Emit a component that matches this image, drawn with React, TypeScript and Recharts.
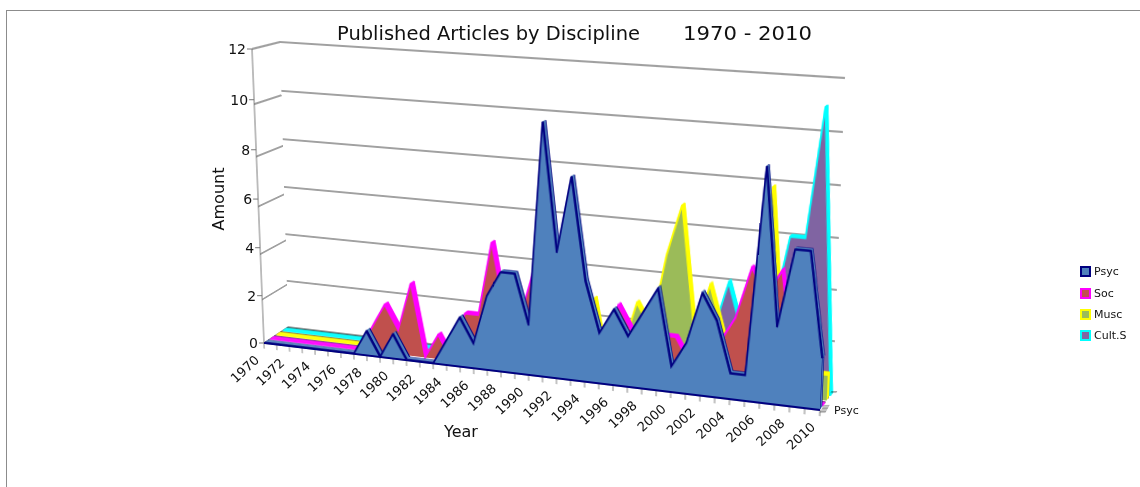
import React from "react";
import { AreaChart, Area, XAxis, YAxis, CartesianGrid, ReferenceLine, ComposedChart, Legend } from "recharts";

const years = Array.from({ length: 41 }, (_, i) => 1970 + i);
const psyc = [0,0,0,0,0,0,0,0,1,0,1,0,0,0,1,2,1,3,4,4,2,10,5,8,4,2,3,2,3,4,1,2,4,3,1,1,9,3,6,6,2];
const soc  = [0,0,0,0,0,0,0,0,1,2,1,3,0,1,0,2,2,5,2,2,4,3,2,1,1,1,3,2,1,2,2,1,1,2,3,5,4,5,1,0,0];
const musc = [0,0,0,0,0,0,0,0,0,0,0,0,0,0,0,0,0,0,0,0,0,0,0,0,3,0,1,3,2,5,7,2,4,2,1,1,8,1,1,1,1];
const cult = [0,0,0,0,0,0,0,0,0,0,0,0,0,0,0,0,0,0,0,0,0,0,0,0,0,0,0,0,0,0,0,0,2,4,2,2,3,6,6,11,0];
const yTicks = [0, 2, 4, 6, 8, 10, 12];
const gridTicks = [2, 4, 6, 8, 10, 12];
const xLabelTicks = years.filter((y) => y % 2 === 0);
const depthTicks = [0, 1, 2, 3];

const rows = years.map((year, i) => ({ year, psyc: psyc[i], soc: soc[i], musc: musc[i], cult: cult[i] }));

const seriesDefs = [
  { key: "cult", name: "Cult.S", fill: "#8064A2", line: "#00FFFF", depth: 0.78 },
  { key: "musc", name: "Musc", fill: "#9BBB59", line: "#FFFF00", depth: 0.52 },
  { key: "soc", name: "Soc", fill: "#C0504D", line: "#FF00FF", depth: 0.26 },
  { key: "psyc", name: "Psyc", fill: "#4F81BD", line: "#000080", depth: 0 },
];

const FONT = "'DejaVu Sans', sans-serif";
const W = 560;
const H = 300;
const M = 10;
type P = [number, number];
type Quad = [P, P, P, P]; // TL, TR, BR, BL

const FRONT: Quad = [[252, 49], [833, 88], [820, 410], [264, 343]];
const BACK: Quad = [[280, 42], [845, 78], [833, 392], [288, 327]];
const LEFT_WALL: Quad = [[252, 49], [280, 42], [288, 327], [264, 343]];
const DEPTH_QUAD: Quad = [[831, 392], [837, 392], [826, 412], [820, 412]];

const lerpQuad = (d: number): Quad =>
  FRONT.map((p, i) => [p[0] + (BACK[i][0] - p[0]) * d, p[1] + (BACK[i][1] - p[1]) * d]) as Quad;

function homography(q: Quad) {
  const [[x0, y0], [x1, y1], [x2, y2], [x3, y3]] = q;
  const dx1 = x1 - x2, dx2 = x3 - x2, dx3 = x0 - x1 + x2 - x3;
  const dy1 = y1 - y2, dy2 = y3 - y2, dy3 = y0 - y1 + y2 - y3;
  const den = dx1 * dy2 - dx2 * dy1;
  const g = (dx3 * dy2 - dx2 * dy3) / den;
  const h = (dx1 * dy3 - dx3 * dy1) / den;
  return { a: x1 - x0 + g * x1, b: x3 - x0 + h * x3, c: x0, d: y1 - y0 + g * y1, e: y3 - y0 + h * y3, f: y0, g, h };
}

function project(q: Quad, u: number, v: number): P {
  const m = homography(q);
  const w = m.g * u + m.h * v + 1;
  return [(m.a * u + m.b * v + m.c) / w, (m.d * u + m.e * v + m.f) / w];
}

function cssMatrix(q: Quad) {
  const m = homography(q);
  const v = [m.a / W, m.d / W, 0, m.g / W, m.b / H, m.e / H, 0, m.h / H, 0, 0, 1, 0, m.c, m.f, 0, 1];
  return `matrix3d(${v.join(",")}) translate(${-M}px, ${-M}px)`;
}

const Layer = ({ quad, yMax = 12, ticks = gridTicks, children }: { quad: Quad; yMax?: number; ticks?: number[]; children: React.ReactNode }) => (
  <div style={{ position: "absolute", left: 0, top: 0, width: W + 2 * M, height: H + 2 * M, transformOrigin: "0 0", transform: cssMatrix(quad) }}>
    <AreaChart width={W + 2 * M} height={H + 2 * M} data={rows} margin={{ top: M, right: M, bottom: M, left: M }}>
      <XAxis dataKey="year" type="number" domain={[1970, 2010]} hide />
      <YAxis domain={[0, yMax]} ticks={ticks} hide />
      {children}
    </AreaChart>
  </div>
);

const hiddenSeries = (
  <Area dataKey="psyc" stroke="none" fill="none" isAnimationActive={false} dot={false} activeDot={false} />
);

const SeriesStack = ({ def }: { def: (typeof seriesDefs)[number] }) => {
  const isFront = def.key === "psyc";
  const copies = [0.17, 0.125, 0.08, 0.04];
  return (
    <>
      {copies.map((off, i) => {
        const mid = isFront && i > 0 && i < 3;
        return (
          <Layer key={off} quad={lerpQuad(def.depth + off)}>
            <Area
              dataKey={def.key}
              type="linear"
              stroke={mid ? def.fill : def.line}
              strokeWidth={i === 0 ? 1.2 : 1.4}
              fill={mid ? def.fill : def.line}
              fillOpacity={1}
              isAnimationActive={false}
              dot={false}
              activeDot={false}
            />
            {i === 0 && !isFront ? <ReferenceLine y={0} stroke="#222" strokeWidth={1} /> : null}
          </Layer>
        );
      })}
      <Layer quad={lerpQuad(def.depth)}>
        <Area dataKey={def.key} type="linear" stroke={def.line} strokeWidth={1.6} fill={def.fill} fillOpacity={1} isAnimationActive={false} dot={false} activeDot={false} />
        {isFront ? <ReferenceLine y={0} stroke={def.line} strokeWidth={2} /> : null}
      </Layer>
    </>
  );
};

const XTick = (props: any) => {
  const t = (props.payload.value - 1970) / 40;
  const [sx, sy] = project(FRONT, t, 1);
  const x = sx - 4;
  const y = sy + 18;
  return (
    <text x={x} y={y} textAnchor="end" transform={`rotate(-43 ${x} ${y})`} fontSize={13} fontFamily={FONT} fill="#111">
      {props.payload.value}
    </text>
  );
};

const YTick = (props: any) => {
  const v = props.payload.value / 12;
  const [sx, sy] = project(FRONT, 0, 1 - v);
  return (
    <g>
      <line x1={sx - 5} x2={sx} y1={sy} y2={sy} stroke="#777" />
      <text x={sx - 6} y={sy + 5} textAnchor="end" fontSize={14} fontFamily={FONT} fill="#111">
        {props.payload.value}
      </text>
    </g>
  );
};

const legendOrder = [...seriesDefs].reverse();
const LegendBox = () => (
  <div style={{ fontFamily: FONT, fontSize: 11, color: "#111" }}>
    {legendOrder.map((s) => (
      <div key={s.key} style={{ display: "flex", alignItems: "center", height: 21.4 }}>
        <span style={{ width: 7, height: 7, background: s.fill, border: `2px solid ${s.line}`, display: "inline-block", marginRight: 3 }} />
        {s.name}
      </div>
    ))}
  </div>
);

export default function App() {
  return (
    <div style={{ position: "fixed", left: 0, top: 0, width: 1140, height: 487, overflow: "hidden", background: "#fff" }}>
      <div style={{ position: "absolute", left: 6, top: 10, width: 1134, height: 477, borderTop: "1px solid #8c8c8c", borderLeft: "1px solid #8c8c8c" }} />
      <Layer quad={BACK}>
        {hiddenSeries}
        <CartesianGrid vertical={false} stroke="#111" strokeWidth={0.8} />
      </Layer>
      <Layer quad={LEFT_WALL}>
        {hiddenSeries}
        <CartesianGrid vertical={false} stroke="#111" strokeWidth={0.8} />
      </Layer>
      <div style={{ position: "absolute", left: 0, top: 0, width: W + 2 * M, height: H + 2 * M, transformOrigin: "0 0", transform: cssMatrix(FRONT) }}>
        <AreaChart width={W + 2 * M} height={H + 2 * M} data={rows} margin={{ top: M, right: M, bottom: M - 1, left: M }}>
          <XAxis dataKey="year" type="number" domain={[1970, 2010]} ticks={years} interval={0} height={1} tick={() => <g />} tickLine={{ stroke: "#888" }} axisLine={{ stroke: "#999", strokeWidth: 1.5 }} tickSize={6} />
          <YAxis domain={[0, 12]} hide />
          {hiddenSeries}
          <ReferenceLine x={1970} stroke="#777" strokeWidth={1} />
        </AreaChart>
      </div>
      {seriesDefs.map((def) => (
        <SeriesStack key={def.key} def={def} />
      ))}
      <Layer quad={DEPTH_QUAD} yMax={3} ticks={depthTicks}>
        {hiddenSeries}
        <CartesianGrid vertical={false} stroke="#111" strokeWidth={16} />
      </Layer>
      <div style={{ position: "absolute", left: 0, top: 0 }}>
        <ComposedChart width={1140} height={487} data={rows} margin={{ top: 0, right: 0, bottom: 0, left: 0 }}>
          <XAxis dataKey="year" type="number" domain={[1970, 2010]} ticks={xLabelTicks} interval={0} tick={<XTick />} axisLine={false} tickLine={false} height={1} />
          <YAxis domain={[0, 12]} ticks={yTicks} interval={0} tick={<YTick />} axisLine={false} tickLine={false} width={1} />
          {hiddenSeries}
          <Legend content={<LegendBox />} layout="vertical" align="right" verticalAlign="top" wrapperStyle={{ left: 1080, top: 261, width: 60, right: "auto", bottom: "auto" }} />
          <text x={337} y={40} fontSize={20} fontFamily={FONT} textLength={303} lengthAdjust="spacingAndGlyphs" fill="#111">Published Articles by Discipline</text>
          <text x={683} y={40} fontSize={20} fontFamily={FONT} textLength={129} lengthAdjust="spacingAndGlyphs" fill="#111">1970 - 2010</text>
          <text x={224} y={199} fontSize={16} fontFamily={FONT} textAnchor="middle" transform="rotate(-90 224 199)" fill="#111">Amount</text>
          <text x={461} y={437} fontSize={16} fontFamily={FONT} textAnchor="middle" fill="#111">Year</text>
          <text x={834} y={414} fontSize={11} fontFamily={FONT} fill="#111">Psyc</text>
        </ComposedChart>
      </div>
    </div>
  );
}
